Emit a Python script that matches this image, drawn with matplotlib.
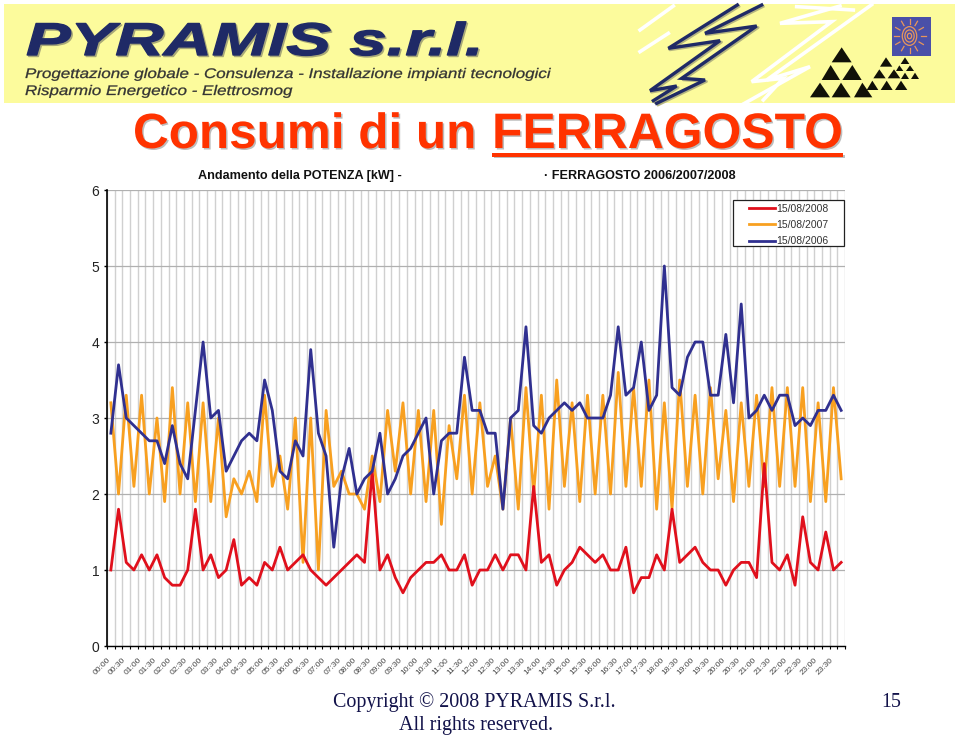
#!/usr/bin/env python3
"""
plot.py
Slide "Consumi di un FERRAGOSTO": power curves of 15 August 2006/2007/2008,
with the PYRAMIS banner on top and the copyright footer.
"""

import numpy as np
import matplotlib
matplotlib.use("Agg")
import matplotlib.pyplot as plt
from matplotlib.colors import to_rgb
from matplotlib.patches import Ellipse, Polygon, Rectangle
from matplotlib.patheffects import AbstractPathEffect
from matplotlib.transforms import Affine2D

# ---- values (kW, one point every 15 minutes) ----
POWER_2008 = [
    1.0, 1.8, 1.1, 1.0, 1.2, 1.0, 1.2, 0.9, 0.8, 0.8, 1.0, 1.8, 1.0, 1.2, 0.9, 1.0,
    1.4, 0.8, 0.9, 0.8, 1.1, 1.0, 1.3, 1.0, 1.1, 1.2, 1.0, 0.9, 0.8, 0.9, 1.0, 1.1,
    1.2, 1.1, 2.3, 1.0, 1.2, 0.9, 0.7, 0.9, 1.0, 1.1, 1.1, 1.2, 1.0, 1.0, 1.2, 0.8,
    1.0, 1.0, 1.2, 1.0, 1.2, 1.2, 1.0, 2.1, 1.1, 1.2, 0.8, 1.0, 1.1, 1.3, 1.2, 1.1,
    1.2, 1.0, 1.0, 1.3, 0.7, 0.9, 0.9, 1.2, 1.0, 1.8, 1.1, 1.2, 1.3, 1.1, 1.0, 1.0,
    0.8, 1.0, 1.1, 1.1, 0.9, 2.4, 1.1, 1.0, 1.2, 0.8, 1.7, 1.1, 1.0, 1.5, 1.0, 1.1,
]
POWER_2007 = [
    3.2, 2.0, 3.3, 2.1, 3.3, 2.0, 3.0, 1.9, 3.4, 2.0, 3.2, 1.9, 3.2, 1.9, 3.0, 1.7,
    2.2, 2.0, 2.3, 1.9, 3.3, 2.1, 2.5, 1.8, 3.0, 1.1, 3.0, 1.0, 3.1, 2.1, 2.3, 2.0,
    2.0, 1.8, 2.5, 1.9, 3.1, 2.3, 3.2, 2.0, 3.1, 1.9, 3.1, 1.6, 2.9, 2.2, 3.3, 2.0,
    3.2, 2.1, 2.5, 1.8, 3.0, 1.8, 3.4, 2.0, 3.3, 1.8, 3.5, 2.1, 3.2, 1.9, 3.3, 2.0,
    3.3, 2.0, 3.6, 2.1, 3.4, 2.1, 3.5, 1.8, 3.2, 1.8, 3.5, 2.1, 3.3, 2.0, 3.4, 2.2,
    3.1, 1.9, 3.2, 2.1, 3.3, 2.1, 3.4, 2.1, 3.4, 2.1, 3.4, 1.9, 3.2, 1.9, 3.4, 2.2,
]
POWER_2006 = [
    2.8, 3.7, 3.0, 2.9, 2.8, 2.7, 2.7, 2.4, 2.9, 2.4, 2.2, 3.1, 4.0, 3.0, 3.1, 2.3,
    2.5, 2.7, 2.8, 2.7, 3.5, 3.1, 2.3, 2.2, 2.7, 2.5, 3.9, 2.8, 2.5, 1.3, 2.2, 2.6,
    2.0, 2.2, 2.3, 2.8, 2.0, 2.2, 2.5, 2.6, 2.8, 3.0, 2.0, 2.7, 2.8, 2.8, 3.8, 3.1,
    3.1, 2.8, 2.8, 1.8, 3.0, 3.1, 4.2, 2.9, 2.8, 3.0, 3.1, 3.2, 3.1, 3.2, 3.0, 3.0,
    3.0, 3.3, 4.2, 3.3, 3.4, 4.0, 3.1, 3.3, 5.0, 3.4, 3.3, 3.8, 4.0, 4.0, 3.3, 3.3,
    4.1, 3.2, 4.5, 3.0, 3.1, 3.3, 3.1, 3.3, 3.3, 2.9, 3.0, 2.9, 3.1, 3.1, 3.3, 3.1,
]
LEGEND_LABELS = ["15/08/2008", "15/08/2007", "15/08/2006"]
HALF_HOURS = [f"{h:02d}:{m}" for h in range(24) for m in ("00", "30")]
Y_TICKS = [0, 1, 2, 3, 4, 5, 6]

RED = "#e0101c"
ORANGE = "#f8a020"
BLUE = "#303090"
NAVY = "#1f2a66"
TITLE_RED = "#ff3300"

W, H = 960, 735


class Stretch(AbstractPathEffect):
    """Widen a text about its anchor, with optional stroke and soft shadow."""

    def __init__(self, sx=1.0, stroke=0.0, shadow=None):
        super().__init__()
        self.sx, self.stroke, self.shadow = sx, stroke, shadow

    def draw_path(self, renderer, gc, tpath, affine, rgbFace=None):
        stretched = Affine2D().scale(self.sx, 1) + affine
        g = renderer.new_gc()
        g.copy_properties(gc)
        if self.shadow:
            dx, dy, col = self.shadow
            rgb = to_rgb(col)
            g.set_linewidth(self.stroke)
            g.set_foreground(rgb)
            renderer.draw_path(g, tpath, stretched + Affine2D().translate(dx, -dy), rgb)
        g.set_linewidth(self.stroke)
        g.set_foreground(rgbFace[:3])
        renderer.draw_path(g, tpath, stretched, rgbFace)
        g.restore()


plt.rcParams["font.family"] = ["Liberation Sans", "DejaVu Sans"]
fig = plt.figure(figsize=(W / 100, H / 100), dpi=100, facecolor="white")

# overlay in pixel coordinates for banner, titles and footer
deco = fig.add_axes([0, 0, 1, 1], zorder=1)
deco.set_xlim(0, W)
deco.set_ylim(H, 0)
deco.axis("off")


def zoomed(points, x0=640):
    # shapes of the banner were measured on a 3x crop
    return [(x0 + x / 3, y / 3) for x, y in points]


# ---- banner ----
deco.add_patch(Rectangle((4, 4), 951, 99, fc="#fcfb9c", ec="none"))

white_bolts = [
    [(100, 18), (0, 90)],
    [(85, 100), (0, 155)],
    [(600, 18), (420, 70), (575, 65), (335, 245), (430, 235), (370, 300)],
    [(695, 14), (380, 240), (510, 200), (310, 312)],
    [(470, 20), (640, 30)],
]
for pts in white_bolts:
    xs, ys = zip(*zoomed(pts))
    deco.plot(xs, ys, color="white", lw=2.6, solid_joinstyle="miter")

navy_bolts = [
    [(292, 15), (85, 145), (240, 122), (30, 272), (110, 258), (40, 302)],
    [(365, 15), (195, 100), (350, 78), (125, 235), (195, 240), (50, 310)],
]
for pts in navy_bolts:
    xs, ys = zip(*zoomed(pts))
    deco.plot(np.array(xs) + 1.5, np.array(ys) + 1.5, color="#b4b480", lw=2.0)
    deco.plot(xs, ys, color=NAVY, lw=2.4, solid_joinstyle="miter")

triangles = [
    (605, 142, 575, 635, 187), (572, 195, 545, 600, 240), (637, 195, 607, 665, 240),
    (540, 248, 510, 570, 292), (603, 248, 575, 632, 292), (667, 248, 642, 697, 292),
    (738, 172, 720, 757, 200), (718, 208, 700, 737, 235), (762, 208, 743, 781, 235),
    (697, 242, 680, 715, 270), (740, 242, 722, 758, 270), (783, 242, 765, 802, 270),
    (795, 172, 782, 808, 192), (778, 196, 768, 790, 213), (810, 196, 798, 822, 213),
    (795, 218, 783, 807, 237), (825, 218, 813, 837, 237),
]
for ax_, ay, bl, br, by in triangles:
    deco.add_patch(Polygon(zoomed([(ax_, ay), (bl, by), (br, by)]), fc="#111108", ec="none"))

# sun tile
deco.add_patch(Rectangle((891.7, 17), 39, 38.5, fc="#4a50a8", ec="none"))
cx, cy = 909.5, 36
for r in (2.5, 5.5, 8.5):
    deco.add_patch(Ellipse((cx, cy), r * 1.7, r * 2.2, fc="none", ec="#e8965a", lw=0.9))
for a in np.arange(0, 360, 30):
    t = np.radians(a)
    deco.plot([cx + 11 * np.cos(t), cx + 16 * np.cos(t)],
              [cy + 12 * np.sin(t), cy + 17 * np.sin(t)], color="#e8965a", lw=0.9)

deco.text(26, 55, "PYRAMIS s.r.l.", fontsize=33, fontweight="bold", fontstyle="italic",
          color=NAVY, ha="left", va="baseline",
          path_effects=[Stretch(1.46, 1.0, (1.5, 1.5, "#a8a878"))])
deco.text(25, 78, "Progettazione globale - Consulenza - Installazione impianti tecnologici",
          fontsize=10, fontstyle="italic", color="#333333", ha="left", va="baseline",
          path_effects=[Stretch(1.22, 0.2)])
deco.text(25, 95, "Risparmio Energetico - Elettrosmog",
          fontsize=10, fontstyle="italic", color="#333333", ha="left", va="baseline",
          path_effects=[Stretch(1.22, 0.2)])

# ---- slide title ----
title_fx = [Stretch(1.0, 0.0, (1.5, 1.5, "#bdbdbd"))]
deco.text(133, 148, "Consumi di un", fontsize=35.6, fontweight="bold", color=TITLE_RED,
          ha="left", va="baseline", path_effects=title_fx)
deco.text(492, 148, "FERRAGOSTO", fontsize=35.9, fontweight="bold", color=TITLE_RED,
          ha="left", va="baseline", path_effects=title_fx)
deco.add_patch(Rectangle((493.5, 154.5), 351, 3.5, fc="#bdbdbd", ec="none"))
deco.add_patch(Rectangle((492, 153), 351, 4, fc=TITLE_RED, ec="none"))

# ---- chart titles ----
deco.text(198, 179, "Andamento della POTENZA [kW] -", fontsize=9.1, fontweight="bold",
          color="#111111", ha="left", va="baseline")
deco.text(544, 179, "· FERRAGOSTO 2006/2007/2008", fontsize=9.05, fontweight="bold",
          color="#111111", ha="left", va="baseline")

# ---- chart ----
left, right, top, bottom = 107, 845, 190, 646
ax = fig.add_axes([left / W, 1 - bottom / H, (right - left) / W, (bottom - top) / H], zorder=2)
ax.patch.set_alpha(0)

x = np.arange(len(POWER_2008))
ax.plot(x, POWER_2007, color=ORANGE, lw=2.0, label=LEGEND_LABELS[1], zorder=3)
ax.plot(x, POWER_2008, color=RED, lw=2.0, label=LEGEND_LABELS[0], zorder=4)
ax.plot(x, POWER_2006, color=BLUE, lw=2.0, label=LEGEND_LABELS[2], zorder=5)

ax.set_xlim(-0.5, len(x) - 0.5)
ax.set_ylim(0, 6)
ax.set_yticks(Y_TICKS)
ax.tick_params(axis="y", labelsize=10, length=2.5, width=1, pad=3, labelcolor="#222222")

bounds = np.arange(len(x) + 1) - 0.5
labels = [""] * len(bounds)
labels[::2] = HALF_HOURS + [""]
ax.set_xticks(bounds)
ax.set_xticklabels(labels, rotation=45, ha="right", rotation_mode="anchor",
                   fontsize=6, color="#444444")
ax.tick_params(axis="x", length=2.5, width=0.8, pad=5)

ax.grid(axis="x", color="#d0d0d0", lw=1.0)
ax.grid(axis="y", color="#b0b0b0", lw=0.9)
ax.set_axisbelow(True)
ax.spines[["top", "right"]].set_visible(False)
ax.spines["left"].set_linewidth(1.2)
ax.spines["bottom"].set_linewidth(1.0)

ax.add_patch(Rectangle((733, 200), 111, 46, transform=deco.transData, fc="white",
                       ec="#222222", lw=0.9, zorder=6, clip_on=False))
handles, names = ax.get_legend_handles_labels()
order = [names.index(n) for n in LEGEND_LABELS]
leg = ax.legend([handles[i] for i in order], LEGEND_LABELS, frameon=False, fontsize=7.5,
                loc="upper left", bbox_to_anchor=((749 - left) / (right - left), (bottom - 203.5) / (bottom - top)),
                borderpad=0, borderaxespad=0, handlelength=2.5, handletextpad=0.15,
                labelspacing=0.62, labelcolor="#333333")
leg.set_zorder(7)

# ---- footer ----
foot = dict(family=["Liberation Serif", "DejaVu Serif"], fontsize=14.4, color="#12124a", va="baseline")
deco.text(333, 707, "Copyright © 2008 PYRAMIS S.r.l.", ha="left", **foot)
deco.text(399, 730, "All rights reserved.", ha="left", **foot)
deco.text(881, 707, "15", ha="left", **foot)

fig.savefig("out.png", dpi=100)
